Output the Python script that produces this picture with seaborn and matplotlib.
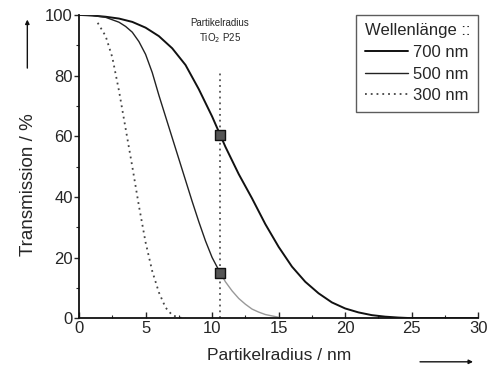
import matplotlib
matplotlib.use("Agg")
import matplotlib.pyplot as plt
import seaborn as sns
import pandas as pd
from matplotlib.ticker import MultipleLocator

sns.set_style("ticks")
plt.rcParams['font.family'] = ['Liberation Sans', 'DejaVu Sans']

# Data
x_700 = [0, 1, 2, 3, 4, 5, 6, 7, 8, 9, 10, 10.6, 11, 12, 13, 14, 15, 16, 17, 18, 19, 20, 21, 22, 23, 24, 25, 30]
t_700 = [100, 99.8, 99.4, 98.8, 97.7, 95.8, 93, 89, 83.5, 75.5, 66.5, 60.5, 56.5, 47.5, 39.5, 31, 23.5, 17, 12, 8.2, 5.2, 3.2, 1.9, 1.0, 0.5, 0.2, 0, 0]
x_500 = [0, 1, 2, 3, 3.5, 4, 4.5, 5, 5.5, 6, 6.5, 7, 7.5, 8, 8.5, 9, 9.5, 10, 10.6]
t_500 = [100, 99.8, 99.2, 97.6, 96.2, 94.3, 91.2, 87, 81, 73.5, 66.5, 59.5, 52.5, 45.5, 38.5, 31.8, 25.5, 20, 15]
x_500b = [10.6, 11, 11.5, 12, 12.5, 13, 13.5, 14, 15]
t_500b = [15, 12, 9, 6.5, 4.6, 3, 2, 1.2, 0.3]
x_300 = [1.4, 2, 2.5, 3, 3.5, 4, 4.5, 5, 5.5, 6, 6.5, 7, 7.5, 8]
t_300 = [97.4, 93, 86, 75, 62.5, 50, 37, 25, 15.5, 8.5, 3.5, 1, 0.2, 0]
p25_radius = 10.6
p25_top = 81
marker_t = [60.5, 15]
legend_labels = ["700 nm", "500 nm", "300 nm"]

fig = plt.figure(figsize=(4.88, 3.73), dpi=100)
ax = fig.add_axes([0.162, 0.147, 0.818, 0.813])

d700 = pd.DataFrame({"x": x_700, "y": t_700})
d500 = pd.DataFrame({"x": x_500, "y": t_500})
d500b = pd.DataFrame({"x": x_500b, "y": t_500b})
d300 = pd.DataFrame({"x": x_300, "y": t_300})

sns.lineplot(data=d700, x="x", y="y", ax=ax, color="#111111", lw=1.4, label=legend_labels[0])
sns.lineplot(data=d500, x="x", y="y", ax=ax, color="#222222", lw=1.0, label=legend_labels[1])
sns.lineplot(data=d500b, x="x", y="y", ax=ax, color="#999999", lw=1.0)
sns.lineplot(data=d300, x="x", y="y", ax=ax, color="#444444", lw=1.3, ls=(0, (1, 2.2)), label=legend_labels[2])

# vertical marker line
ax.plot([p25_radius, p25_radius], [0, p25_top], color="#555555", lw=1.3, ls=(0, (1, 2.2)))
sns.scatterplot(x=[p25_radius] * len(marker_t), y=marker_t, ax=ax, marker="s", s=45,
                color="#555555", edgecolor="#111111", linewidth=1.0, zorder=5, legend=False)
ax.text(p25_radius, 90, "Partikelradius\nTiO$_2$ P25", ha="center", va="bottom", fontsize=7,
        linespacing=1.3)

ax.set_xlim(0, 30)
ax.set_ylim(0, 100)
ax.xaxis.set_major_locator(MultipleLocator(5))
ax.xaxis.set_minor_locator(MultipleLocator(2.5))
ax.yaxis.set_major_locator(MultipleLocator(20))
ax.yaxis.set_minor_locator(MultipleLocator(10))
ax.tick_params(axis="x", which="major", direction="in", length=4, width=1, labelsize=12, pad=2)
ax.tick_params(axis="x", which="minor", direction="in", length=2.5, width=0.8)
ax.tick_params(axis="y", which="major", direction="out", length=3.5, width=1, labelsize=12, pad=1)
ax.tick_params(axis="y", which="minor", direction="out", length=2, width=0.8)
for s in ["top", "right"]:
    ax.spines[s].set_visible(False)
for s in ["left", "bottom"]:
    ax.spines[s].set_linewidth(1.3)
    ax.spines[s].set_color("#111111")

ax.set_xlabel("Partikelradius / nm", fontsize=12.5)
ax.set_ylabel("Transmission / %", fontsize=13.5)
ax.xaxis.set_label_coords(0.5, -0.1)
ax.yaxis.set_label_coords(-0.105, 0.44)

leg = ax.legend(title="Wellenlänge ::", loc="upper right", bbox_to_anchor=(1.0, 1.0),
                borderaxespad=0.0,
                fontsize=12, title_fontsize=12, frameon=True, fancybox=False,
                edgecolor="#333333", handlelength=2.6, handletextpad=0.3,
                borderpad=0.5, labelspacing=0.4, alignment="left", markerfirst=True)
leg.get_frame().set_linewidth(1.0)

# arrows
fig.add_artist(matplotlib.patches.FancyArrowPatch((0.056, 0.81), (0.056, 0.955),
               transform=fig.transFigure, arrowstyle="-|>", mutation_scale=6, lw=1.0, color="#111111"))
fig.add_artist(matplotlib.patches.FancyArrowPatch((0.855, 0.03), (0.975, 0.03),
               transform=fig.transFigure, arrowstyle="-|>", mutation_scale=6, lw=1.0, color="#111111"))

fig.savefig("out.png", dpi=100)
